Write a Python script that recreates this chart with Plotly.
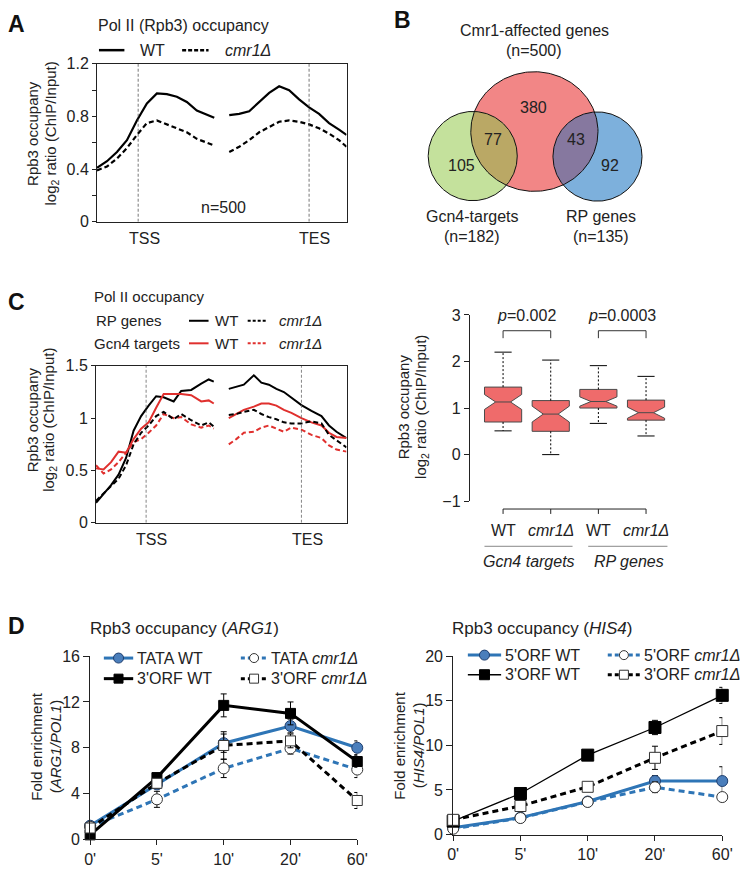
import numpy as np
import plotly.graph_objects as go

W, H = 744, 871
FONT = "Liberation Sans, Arial, Helvetica, sans-serif"
INK = "#222222"
RED = "#E0302E"
BLUE = "#2E75B6"
TICK = 16
LAB = 15

# ---------------- Panel A data (metagene profile) ----------------
A_X1 = [0, 4, 8, 12, 16, 20, 24, 28, 32, 36, 40, 44, 47]
A_X2 = [53, 57, 61, 65, 69, 73, 77, 81, 85, 89, 93, 97, 100]
A_WT1 = [0.41, 0.46, 0.53, 0.62, 0.77, 0.90, 0.975, 0.97, 0.95, 0.91, 0.845, 0.81, 0.79]
A_WT2 = [0.81, 0.82, 0.84, 0.91, 0.98, 1.03, 1.00, 0.93, 0.87, 0.82, 0.75, 0.70, 0.66]
A_MUT1 = [0.39, 0.42, 0.48, 0.56, 0.66, 0.75, 0.77, 0.74, 0.71, 0.68, 0.63, 0.60, 0.58]
A_MUT2 = [0.53, 0.57, 0.62, 0.68, 0.72, 0.76, 0.77, 0.76, 0.74, 0.71, 0.67, 0.62, 0.57]
A_TSS, A_TES = 16.5, 85
A_YTICKS = [0, 0.4, 0.8, 1.2]

# ---------------- Panel B data (Venn) ----------------
VENN_SETS = ["Cmr1-affected genes", "Gcn4-targets", "RP genes"]
VENN_N = [500, 182, 135]
VENN_REGIONS = [380, 77, 105, 43, 92]  # cmr1 only, cmr1&gcn4, gcn4 only, cmr1&rp, rp only

# ---------------- Panel C data (profiles) ----------------
C_X1 = [0, 3, 6, 9, 12, 15, 18, 21, 24, 27, 31, 34, 38, 42, 45, 47]
C_X2 = [53, 56, 59, 63, 66, 69, 72, 75, 78, 82, 86, 90, 93, 96, 100]
C_RP_WT1 = [0.19, 0.27, 0.36, 0.46, 0.62, 0.88, 1.02, 1.12, 1.21, 1.20, 1.16, 1.26, 1.27, 1.33, 1.37, 1.35]
C_RP_WT2 = [1.28, 1.30, 1.32, 1.41, 1.34, 1.32, 1.28, 1.25, 1.20, 1.125, 1.07, 1.02, 0.93, 0.87, 0.81]
C_RP_MUT1 = [0.21, 0.28, 0.35, 0.42, 0.55, 0.75, 0.86, 0.93, 1.02, 1.06, 0.99, 1.04, 0.98, 0.93, 0.96, 0.92]
C_RP_MUT2 = [1.03, 1.04, 1.06, 1.08, 1.04, 1.01, 0.99, 0.96, 0.95, 0.95, 0.97, 0.95, 0.84, 0.79, 0.72]
C_GCN_WT1 = [0.52, 0.51, 0.58, 0.68, 0.67, 0.80, 0.90, 0.96, 1.10, 1.23, 1.23, 1.23, 1.22, 1.16, 1.17, 1.14]
C_GCN_WT2 = [1.00, 1.04, 1.08, 1.11, 1.14, 1.14, 1.12, 1.08, 1.05, 1.00, 0.96, 0.93, 0.86, 0.82, 0.81]
C_GCN_MUT1 = [0.55, 0.47, 0.51, 0.58, 0.67, 0.77, 0.80, 0.86, 0.93, 1.04, 1.00, 1.01, 0.94, 0.91, 0.93, 0.90]
C_GCN_MUT2 = [0.75, 0.80, 0.86, 0.87, 0.91, 0.93, 0.90, 0.87, 0.91, 0.89, 0.84, 0.81, 0.74, 0.70, 0.68]
C_TSS, C_TES = 20, 82
C_YTICKS = [0, 0.5, 1, 1.5]

# ---------------- Panel C box plot ----------------
BOX_LABELS = ["WT", "<i>cmr1Δ</i>", "WT", "<i>cmr1Δ</i>"]
BOX_GROUPS = ["Gcn4 targets", "RP genes"]
BOX_LO = [0.51, 0.00, 0.67, 0.40]
BOX_Q1 = [0.70, 0.50, 1.00, 0.74]
BOX_MED = [1.13, 0.87, 1.14, 0.90]
BOX_Q3 = [1.45, 1.16, 1.40, 1.17]
BOX_HI = [2.20, 2.03, 1.91, 1.68]
BOX_NOTCH = [0.16, 0.17, 0.10, 0.12]
BOX_P = ["0.002", "0.0003"]

# ---------------- Panel D data ----------------
D_TIMES = ["0'", "5'", "10'", "20'", "60'"]
ARG_TATA_WT = [1.2, 4.8, 8.4, 9.9, 8.0]
ARG_TATA_WT_E = [0.2, 0.3, 0.8, 0.6, 0.6]
ARG_ORF3_WT = [0.4, 5.4, 11.7, 11.0, 6.8]
ARG_ORF3_WT_E = [0.1, 0.3, 1.0, 1.0, 0.5]
ARG_TATA_MUT = [1.1, 3.5, 6.2, 7.95, 6.1]
ARG_TATA_MUT_E = [0.2, 0.7, 0.8, 0.5, 0.7]
ARG_ORF3_MUT = [1.0, 4.9, 8.2, 8.6, 3.4]
ARG_ORF3_MUT_E = [0.2, 0.4, 1.2, 0.6, 0.7]

HIS_ORF5_WT = [0.75, 1.9, 3.7, 6.0, 6.0]
HIS_ORF5_WT_E = [0.1, 0.2, 0.2, 0.6, 1.6]
HIS_ORF3_WT = [1.5, 4.6, 8.9, 12.0, 15.6]
HIS_ORF3_WT_E = [0.2, 0.3, 0.4, 0.8, 0.9]
HIS_ORF5_MUT = [0.65, 1.85, 3.65, 5.3, 4.2]
HIS_ORF5_MUT_E = [0.1, 0.2, 0.2, 0.6, 0.3]
HIS_ORF3_MUT = [1.65, 3.2, 5.35, 8.6, 11.6]
HIS_ORF3_MUT_E = [0.2, 0.3, 0.3, 1.3, 1.5]


def fx(x):
    return x / W


def fy(y):
    return 1 - y / H


fig = go.Figure()
annotations = []
shapes = []


def ann(text, x, y, size=LAB, xanchor="center", yanchor="middle", angle=0,
        xref="paper", yref="paper", color=INK, **kw):
    xx = fx(x) if xref == "paper" else x
    yy = fy(y) if yref == "paper" else y
    annotations.append(dict(text=text, x=xx, y=yy, xref=xref, yref=yref,
                            showarrow=False, xanchor=xanchor, yanchor=yanchor,
                            textangle=angle, font=dict(size=size, color=color, family=FONT), **kw))


base_axis = dict(showgrid=False, zeroline=False, linecolor=INK, linewidth=1,
                 tickcolor=INK, tickfont=dict(size=TICK, color=INK, family=FONT))

layout = dict(width=W, height=H, margin=dict(l=0, r=0, t=0, b=0), autosize=False,
              paper_bgcolor="white", plot_bgcolor="rgba(0,0,0,0)", showlegend=False,
              font=dict(family=FONT, color=INK, size=LAB))

# ======== Panel A axes ========
layout["xaxis"] = dict(base_axis, domain=[fx(93), fx(348)], range=[0, 100], anchor="y",
                       showline=True, mirror=True, ticks="", showticklabels=False)
layout["yaxis"] = dict(base_axis, domain=[fy(218), fy(57)], range=[0, 1.2], anchor="x",
                       showline=True, mirror=True, ticks="outside", ticklen=4,
                       tickvals=A_YTICKS, ticktext=[f"{v:g}" for v in A_YTICKS],
                       minor=dict(ticks="outside", ticklen=4, tickcolor=INK,
                                  tickvals=[0.2, 0.6, 1.0]))

for xs, ys, dash in [(A_X1, A_WT1, "solid"), (A_X2, A_WT2, "solid"),
                     (A_X1, A_MUT1, "5px,3px"), (A_X2, A_MUT2, "5px,3px")]:
    fig.add_trace(go.Scatter(x=xs, y=ys, mode="lines", xaxis="x", yaxis="y",
                             line=dict(color="black", width=2.2, dash=dash)))
for xv in [A_TSS, A_TES]:
    shapes.append(dict(type="line", xref="x", yref="y", x0=xv, x1=xv, y0=0, y1=1.2,
                       line=dict(color="#555", width=0.8, dash="3px,2px")))
ann("TSS", A_TSS, 235, xref="x", size=16, xshift=6)
ann("TES", A_TES, 235, xref="x", size=16, xshift=5)
ann("n=500", 50.5, 0.105, xref="x", yref="y", size=16)
ann("Pol II (Rpb3) occupancy", 181, 18, size=16)
ann("Rpb3 occupany", 27, 128, angle=-90, size=LAB)
ann("log<sub>2</sub> ratio (ChIP/Input)", 46, 128, angle=-90, size=LAB)
ann("WT", 135, 43, xanchor="left", size=16)
ann("<i>cmr1Δ</i>", 222, 43, xanchor="left", size=16)

# ======== Panel C left axes ========
layout["xaxis2"] = dict(base_axis, domain=[fx(92), fx(348)], range=[0, 100], anchor="y2",
                        showline=True, mirror=True, ticks="", showticklabels=False)
layout["yaxis2"] = dict(base_axis, domain=[fy(525), fy(365)], range=[0, 1.5], anchor="x2",
                        showline=True, mirror=True, ticks="outside", ticklen=4,
                        tickvals=C_YTICKS, ticktext=[f"{v:g}" for v in C_YTICKS])
for xs, ys, col, dash in [(C_X1, C_RP_WT1, "black", "solid"), (C_X2, C_RP_WT2, "black", "solid"),
                          (C_X1, C_GCN_WT1, RED, "solid"), (C_X2, C_GCN_WT2, RED, "solid"),
                          (C_X1, C_GCN_MUT1, RED, "5px,3px"), (C_X2, C_GCN_MUT2, RED, "5px,3px"),
                          (C_X1, C_RP_MUT1, "black", "5px,3px"), (C_X2, C_RP_MUT2, "black", "5px,3px")]:
    fig.add_trace(go.Scatter(x=xs, y=ys, mode="lines", xaxis="x2", yaxis="y2",
                             line=dict(color=col, width=2, dash=dash)))
for xv in [C_TSS, C_TES]:
    shapes.append(dict(type="line", xref="x2", yref="y2", x0=xv, x1=xv, y0=0, y1=1.5,
                       line=dict(color="#666", width=0.8, dash="3px,2px")))
ann("TSS", C_TSS, 542, xref="x2", size=16, xshift=5)
ann("TES", C_TES, 542, xref="x2", size=16, xshift=6)
ann("Pol II occupancy", 88, 294, xanchor="left", size=LAB)
ann("RP genes", 90, 319, xanchor="left", size=LAB)
ann("Gcn4 targets", 88, 342, xanchor="left", size=LAB)
for yy in [319, 342]:
    ann("WT", 212, yy, xanchor="left", size=LAB)
    ann("<i>cmr1Δ</i>", 277, yy, xanchor="left", size=LAB)
ann("Rpb3 occupany", 27, 420, angle=-90, size=LAB)
ann("log<sub>2</sub> ratio (ChIP/Input)", 45, 420, angle=-90, size=LAB)

# ======== Panel C right (box plot) ========
cat0_px, cat_step = 508, 48.7
layout["xaxis3"] = dict(base_axis, domain=[fx(474), fx(700)],
                        range=[(474 - cat0_px) / cat_step, (700 - cat0_px) / cat_step],
                        anchor="y3", showline=False, ticks="", showticklabels=False)
layout["yaxis3"] = dict(base_axis, domain=[fy(503), fy(313)], range=[-1, 3], anchor="x3",
                        showline=True, ticks="outside", ticklen=5,
                        tickvals=[-1, 0, 1, 2, 3], ticktext=["−1", "0", "1", "2", "3"])
for i in range(len(BOX_MED)):
    fig.add_trace(go.Box(x=[i], q1=[BOX_Q1[i]], median=[BOX_MED[i]], q3=[BOX_Q3[i]],
                         lowerfence=[BOX_Q1[i]], upperfence=[BOX_Q3[i]],
                         notchspan=[BOX_NOTCH[i]], notched=True, notchwidth=0.3,
                         width=0.78, whiskerwidth=0, boxpoints=False,
                         fillcolor="#EF6B6B", line=dict(color="#4a4a4a", width=1),
                         xaxis="x3", yaxis="y3"))
    fig.add_trace(go.Scatter(x=[i, i, None, i, i], y=[BOX_Q3[i], BOX_HI[i], None, BOX_Q1[i], BOX_LO[i]],
                             mode="lines", xaxis="x3", yaxis="y3",
                             line=dict(color="black", width=1, dash="2px,2px")))
    fig.add_trace(go.Scatter(x=[i - 0.18, i + 0.18, None, i - 0.18, i + 0.18],
                             y=[BOX_HI[i], BOX_HI[i], None, BOX_LO[i], BOX_LO[i]],
                             mode="lines", xaxis="x3", yaxis="y3",
                             line=dict(color="black", width=1)))
for g, p in enumerate(BOX_P):
    a, b = 2 * g, 2 * g + 1
    fig.add_trace(go.Scatter(x=[a, a, b, b], y=[2.5, 2.66, 2.66, 2.5], mode="lines",
                             xaxis="x3", yaxis="y3", line=dict(color="#333", width=1)))
    ann(f"<i>p</i>={p}", (a + b) / 2, 2.98, xref="x3", yref="y3", size=16)
# category axis bracket
shapes.append(dict(type="line", xref="x3", yref="paper", x0=0, x1=len(BOX_MED) - 1,
                   y0=fy(511), y1=fy(511), line=dict(color=INK, width=1)))
for i in range(len(BOX_MED)):
    shapes.append(dict(type="line", xref="x3", yref="paper", x0=i, x1=i,
                       y0=fy(511), y1=fy(516), line=dict(color=INK, width=1)))
    ann(BOX_LABELS[i], i, 533, xref="x3", size=16)
for g, name in enumerate(BOX_GROUPS):
    x0, x1 = [(489, 579), (595, 676)][g]
    shapes.append(dict(type="line", xref="paper", yref="paper", x0=fx(x0), x1=fx(x1),
                       y0=fy(549), y1=fy(549), line=dict(color="#888", width=1)))
    ann(f"<i>{name}</i>", (x0 + x1) / 2 + 1, 565, size=16)
ann("Rpb3 occupany", 406, 407, angle=-90, size=LAB)
ann("log<sub>2</sub> ratio (ChIP/Input)", 424, 407, angle=-90, size=LAB)

# ======== Panel D axes ========
layout["xaxis4"] = dict(base_axis, domain=[fx(86), fx(359)], range=[0, 4], anchor="y4",
                        showline=True, ticks="outside", ticklen=5,
                        tickvals=list(range(5)), ticktext=D_TIMES)
layout["yaxis4"] = dict(base_axis, domain=[fy(848), fy(661)], range=[0, 16], anchor="x4",
                        showline=True, ticks="outside", ticklen=6, tickvals=[0, 4, 8, 12, 16])
layout["xaxis5"] = dict(base_axis, domain=[fx(457), fx(732)], range=[0, 4], anchor="y5",
                        showline=True, ticks="outside", ticklen=5,
                        tickvals=list(range(5)), ticktext=D_TIMES)
layout["yaxis5"] = dict(base_axis, domain=[fy(843), fy(661)], range=[0, 20], anchor="x5",
                        showline=True, ticks="outside", ticklen=6, tickvals=[0, 5, 10, 15, 20])

BLUE_MK = dict(symbol="circle", color="#4A7EBB", line=dict(color="#1F3F6F", width=1))
OPEN_C = dict(symbol="circle", color="white", line=dict(color="#333", width=1))
BLK_SQ = dict(symbol="square", color="black", line=dict(color="black", width=1))
OPEN_SQ = dict(symbol="square", color="white", line=dict(color="#333", width=1))


def dtrace(ax, vals, err, col, width, dash, mk, size):
    fig.add_trace(go.Scatter(x=list(range(len(vals))), y=vals, mode="lines+markers",
                             xaxis="x" + ax, yaxis="y" + ax, cliponaxis=False,
                             line=dict(color=col, width=width, dash=dash),
                             marker=dict(mk, size=size),
                             error_y=dict(type="data", array=err, color="black", thickness=1, width=3)))


dtrace("4", ARG_TATA_WT, ARG_TATA_WT_E, BLUE, 3, "solid", BLUE_MK, 11)
dtrace("4", ARG_TATA_MUT, ARG_TATA_MUT_E, BLUE, 3, "6px,4px", OPEN_C, 11)
dtrace("4", ARG_ORF3_WT, ARG_ORF3_WT_E, "black", 3, "solid", BLK_SQ, 10)
dtrace("4", ARG_ORF3_MUT, ARG_ORF3_MUT_E, "black", 3, "6px,4px", OPEN_SQ, 10)

dtrace("5", HIS_ORF5_WT, HIS_ORF5_WT_E, BLUE, 3, "solid", BLUE_MK, 11)
dtrace("5", HIS_ORF5_MUT, HIS_ORF5_MUT_E, BLUE, 3, "6px,4px", OPEN_C, 11)
dtrace("5", HIS_ORF3_WT, HIS_ORF3_WT_E, "black", 1.3, "solid", BLK_SQ, 12)
dtrace("5", HIS_ORF3_MUT, HIS_ORF3_MUT_E, "black", 3, "6px,4px", OPEN_SQ, 11)

ann("Rpb3 occupancy (<i>ARG1</i>)", 182, 633, size=17)
ann("Rpb3 occupancy (<i>HIS4</i>)", 548, 633, size=17)
ann("Fold enrichment", 31, 753, angle=-90, size=LAB)
ann("(<i>ARG1/POL1</i>)", 50, 753, angle=-90, size=LAB)
ann("Fold enrichment", 402, 752, angle=-90, size=LAB)
ann("(<i>HIS4/POL1</i>)", 421, 752, angle=-90, size=LAB)

# ======== Pixel overlay axis (Venn + legend keys) ========
layout["xaxis6"] = dict(domain=[0, 1], range=[0, W], visible=False, anchor="y6")
layout["yaxis6"] = dict(domain=[0, 1], range=[H, 0], visible=False, anchor="x6")


def pix(xs, ys, **kw):
    fig.add_trace(go.Scatter(x=xs, y=ys, xaxis="x6", yaxis="y6", hoverinfo="skip", **kw))


# Legend keys panel A
pix([95, 121], [43, 43], mode="lines", line=dict(color="black", width=2.5))
pix([180, 207], [43, 43], mode="lines", line=dict(color="black", width=2.5, dash="4px,2px"))
# Legend keys panel C
for yy, col in [(319, "black"), (342, RED)]:
    pix([187, 207], [yy, yy], mode="lines", line=dict(color=col, width=2))
    pix([247, 266], [yy, yy], mode="lines", line=dict(color=col, width=2, dash="3px,2px"))


# Legend keys panel D
def dkey(x0, x1, y, col, width, dash, mk, size, label):
    pix([x0, x1], [y, y], mode="lines", line=dict(color=col, width=width, dash=dash))
    pix([(x0 + x1) / 2], [y], mode="markers", marker=dict(mk, size=size))
    ann(label, x1 + 2, y, xanchor="left", size=16)


dkey(100, 130, 663, BLUE, 3, "solid", BLUE_MK, 10, "TATA WT")
dkey(100, 130, 684, "black", 3, "solid", BLK_SQ, 9, "3'ORF WT")
dkey(240, 267, 663, BLUE, 3, "4px,3px", OPEN_C, 9, "TATA <i>cmr1Δ</i>")
dkey(240, 267, 684, "black", 3, "4px,3px", OPEN_SQ, 9, "3'ORF <i>cmr1Δ</i>")
dkey(472, 506, 660, BLUE, 3, "solid", BLUE_MK, 10, "5'ORF WT")
dkey(472, 506, 680, "black", 1.3, "solid", BLK_SQ, 10, "3'ORF WT")
dkey(615, 648, 660, BLUE, 3, "4px,3px", OPEN_C, 9, "5'ORF <i>cmr1Δ</i>")
dkey(615, 648, 680, "black", 3, "4px,3px", OPEN_SQ, 9, "3'ORF <i>cmr1Δ</i>")

# Venn diagram: (cx, cy, rx, ry) in pixels
E_RED = (540, 126, 65, 61)
E_GRN = (477, 151, 45.5, 45.5)
E_BLU = (604.5, 151.5, 45.5, 45.5)


def ellipse(e, n=240):
    t = np.linspace(0, 2 * np.pi, n)
    return list(e[0] + e[2] * np.cos(t)), list(e[1] + e[3] * np.sin(t))


def inside(e, x, y):
    return ((x - e[0]) / e[2]) ** 2 + ((y - e[1]) / e[3]) ** 2 <= 1


def lens(e1, e2, n=720):
    t = np.linspace(0, 2 * np.pi, n, endpoint=False)
    ax_, ay_ = e1[0] + e1[2] * np.cos(t), e1[1] + e1[3] * np.sin(t)
    bx_, by_ = e2[0] + e2[2] * np.cos(t), e2[1] + e2[3] * np.sin(t)
    ina = inside(e2, ax_, ay_)
    inb = inside(e1, bx_, by_)
    xs = np.concatenate([ax_[ina], bx_[inb]])
    ys = np.concatenate([ay_[ina], by_[inb]])
    o = np.argsort(np.arctan2(ys - ys.mean(), xs - xs.mean()))
    xs, ys = xs[o], ys[o]
    return list(xs) + [xs[0]], list(ys) + [ys[0]]


for e, col in [(E_RED, "#F28686"), (E_GRN, "#C4E19C"), (E_BLU, "#7DB0DC")]:
    xs, ys = ellipse(e)
    pix(xs, ys, mode="lines", fill="toself", fillcolor=col, line=dict(width=0))
for (e1, e2), col in [((E_RED, E_GRN), "#BAA865"), ((E_RED, E_BLU), "#86789F")]:
    xs, ys = lens(e1, e2)
    pix(xs, ys, mode="lines", fill="toself", fillcolor=col, line=dict(width=0))
for e in [E_RED, E_GRN, E_BLU]:
    xs, ys = ellipse(e)
    pix(xs, ys, mode="lines", line=dict(color="#111", width=1))

venn_pos = [(539, 101), (498, 134), (465, 161), (583, 134), (617, 161)]
for (vx, vy), v in zip(venn_pos, VENN_REGIONS):
    ann(str(v), vx, vy, size=16)
ann(VENN_SETS[0], 540, 23, size=16)
ann(f"(n={VENN_N[0]})", 540, 43, size=16)
ann(VENN_SETS[1], 476, 213, size=16)
ann(f"(n={VENN_N[1]})", 476, 233, size=16)
ann(VENN_SETS[2], 608, 213, size=16)
ann(f"(n={VENN_N[2]})", 608, 233, size=16)

# Panel letters
for letter, (lx, ly) in zip("ABCD", [(11, 16), (405, 12), (11, 300), (11, 630)]):
    ann(f"<b>{letter}</b>", lx, ly, size=23, color="#111")

layout["annotations"] = annotations
layout["shapes"] = shapes
fig.update_layout(**layout)
fig.write_html("out.html", config={"displayModeBar": False},
               post_script="document.body.style.margin='0';")
